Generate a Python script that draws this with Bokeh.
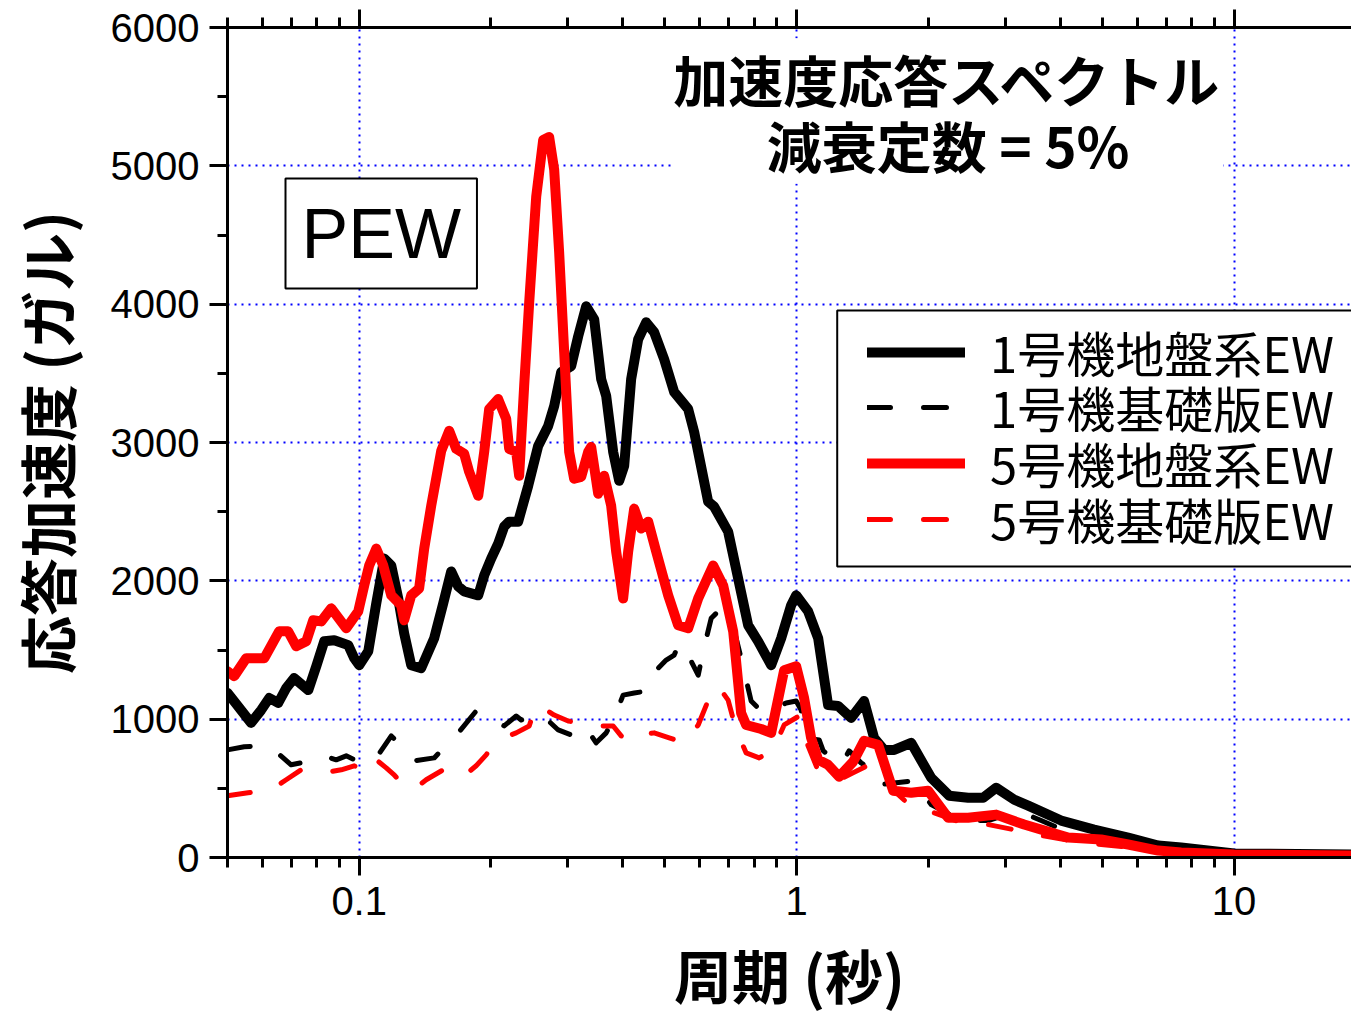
from bokeh.plotting import figure
from bokeh.models import (Range1d, LogAxis, FixedTicker, SingleIntervalTicker, BoxAnnotation,
                          CustomJSTickFormatter, Legend, LegendItem, Label, ColumnDataSource)
from bokeh.embed import file_html
from bokeh.resources import INLINE

# ---------------- data (period [s], response acceleration [gal]) ----------------
period_u1_ground = [0.050, 0.0537, 0.0566, 0.0597, 0.0623, 0.0653, 0.0681, 0.0710, 0.0765, 0.0798,
                    0.0832, 0.0877, 0.0944, 0.0974, 0.100, 0.1049, 0.1094, 0.1141, 0.1184, 0.1228,
                    0.1267, 0.1315, 0.1386, 0.1484, 0.1556, 0.1623, 0.1684, 0.1738, 0.1871, 0.1931,
                    0.2003, 0.2078, 0.2145, 0.2202, 0.2309, 0.2434, 0.2565, 0.2704, 0.2791, 0.2896,
                    0.3052, 0.3167, 0.3303, 0.3445, 0.3574, 0.3670, 0.3807, 0.3929, 0.4034, 0.4185,
                    0.4342, 0.4529, 0.4724, 0.4979, 0.5248, 0.5649, 0.5831, 0.6277, 0.6478, 0.6972,
                    0.7350, 0.7747, 0.8166, 0.8744, 0.9218, 0.9714, 0.9975, 1.062, 1.120, 1.180,
                    1.244, 1.332, 1.426, 1.503, 1.585, 1.671, 1.827, 2.030, 2.232, 2.466,
                    2.669, 2.858, 3.142, 3.382, 4.023, 4.786, 5.724, 6.705, 7.567, 10.0, 20.0]
accel_u1_ground = [1190, 1066, 973, 1066, 1153, 1117, 1225, 1297, 1210, 1383,
                   1563, 1571, 1535, 1441, 1390, 1491, 1837, 2161, 2111, 1873,
                   1621, 1390, 1369, 1585, 1837, 2068, 1960, 1924, 1895, 2039,
                   2161, 2269, 2392, 2428, 2428, 2687, 2975, 3120, 3264, 3509,
                   3552, 3768, 3984, 3890, 3458, 3336, 2932, 2723, 2831, 3458,
                   3746, 3869, 3797, 3602, 3365, 3242, 3076, 2572, 2536, 2356,
                   2017, 1679, 1563, 1390, 1585, 1823, 1895, 1780, 1585, 1102,
                   1095, 1009, 1131, 865, 778, 778, 829, 576, 447, 432,
                   432, 504, 418, 375, 267, 202, 144, 86, 72, 29, 20]

period_u1_base = [0.050, 0.0546, 0.0597, 0.0646, 0.0699, 0.0757, 0.0832, 0.0886, 0.0934, 0.1011,
                  0.1082, 0.1184, 0.1247, 0.1336, 0.1484, 0.1684, 0.1851, 0.2003, 0.2145, 0.2285,
                  0.2346, 0.2606, 0.2851, 0.3052, 0.3268, 0.3481, 0.3670, 0.3827, 0.4012, 0.4252,
                  0.4529, 0.4774, 0.5032, 0.5248, 0.5388, 0.5649, 0.5956, 0.6114, 0.6377, 0.6652,
                  0.7084, 0.7466, 0.7870, 0.8383, 0.8884, 0.9463, 0.9975, 1.024, 1.040, 1.126,
                  1.150, 1.264, 1.318, 1.404, 1.496, 1.544, 1.856, 2.030, 2.377, 2.740,
                  3.209, 3.622, 4.309, 5.235, 6.811, 10.0, 20.0]
accel_u1_base = [778, 800, 807, 764, 670, 692, 735, 706, 735, 684,
                 699, 879, 807, 699, 720, 901, 1059, 1009, 951, 1023,
                 994, 1037, 922, 886, 958, 829, 901, 1009, 1174, 1189,
                 1203, 1354, 1427, 1463, 1549, 1463, 1318, 1491, 1729, 1787,
                 1729, 1441, 1131, 1045, 1081, 1117, 1131, 1066, 865, 850,
                 771, 670, 771, 684, 627, 526, 555, 382, 267, 267,
                 339, 267, 166, 122, 72, 29, 14]

period_u5_ground = [0.050, 0.0518, 0.0552, 0.0607, 0.0656, 0.0688, 0.0718, 0.0757, 0.0785, 0.0819,
                    0.0863, 0.0934, 0.0995, 0.1027, 0.1054, 0.1094, 0.1135, 0.1184, 0.1247, 0.1267,
                    0.1315, 0.1371, 0.1408, 0.1461, 0.1540, 0.1606, 0.1666, 0.1738, 0.1784, 0.1871,
                    0.1931, 0.1982, 0.2078, 0.2168, 0.2202, 0.2285, 0.2321, 0.2383, 0.2447, 0.2539,
                    0.2634, 0.2718, 0.2791, 0.2865, 0.2942, 0.3020, 0.3100, 0.3217, 0.3338, 0.3391,
                    0.3519, 0.3631, 0.3767, 0.3867, 0.4012, 0.4120, 0.4252, 0.4412, 0.4577, 0.4774,
                    0.5086, 0.5359, 0.5649, 0.5956, 0.6444, 0.6792, 0.7160, 0.7466, 0.7667, 0.8297,
                    0.8744, 0.9363, 0.9975, 1.040, 1.079, 1.120, 1.180, 1.250, 1.346, 1.426,
                    1.536, 1.662, 1.827, 1.998, 2.220, 2.466, 2.858, 3.311, 4.175, 4.966,
                    5.724, 6.705, 7.567, 10.0, 20.0]
accel_u5_ground = [1347, 1311, 1441, 1441, 1635, 1635, 1527, 1563, 1715, 1707,
                   1801, 1657, 1780, 1967, 2111, 2233, 2111, 1895, 1823, 1715,
                   1895, 1945, 2233, 2543, 2939, 3084, 2954, 2918, 2788, 2615,
                   2932, 3242, 3314, 3170, 2954, 2932, 2759, 3408, 4013, 4777,
                   5187, 5209, 4971, 4373, 3653, 2932, 2738, 2752, 2932, 2968,
                   2630, 2759, 2543, 2212, 1873, 2212, 2522, 2378, 2428, 2212,
                   1895, 1679, 1657, 1873, 2111, 1967, 1635, 1045, 958, 929,
                   901, 1354, 1383, 1153, 865, 706, 670, 584, 692, 843,
                   814, 483, 468, 483, 288, 288, 310, 238, 144, 130,
                   94, 50, 36, 22, 14]

period_u5_base = [0.050, 0.0557, 0.0629, 0.0681, 0.0737, 0.0832, 0.0910, 0.0974, 0.1038, 0.1094,
                  0.1153, 0.1202, 0.1261, 0.1329, 0.1423, 0.1556, 0.1640, 0.1738, 0.1851, 0.1951,
                  0.2025, 0.2134, 0.2285, 0.2447, 0.2539, 0.2676, 0.2791, 0.3004, 0.3167, 0.3391,
                  0.3612, 0.3807, 0.3971, 0.4230, 0.4412, 0.4724, 0.5113, 0.5532, 0.5956, 0.6377,
                  0.6617, 0.6972, 0.7273, 0.7667, 0.8209, 0.8837, 0.9363, 1.013, 1.051, 1.120,
                  1.250, 1.346, 1.464, 1.560, 1.688, 1.808, 2.030, 2.377, 2.740, 3.209,
                  3.622, 4.470, 5.816, 6.811, 10.0, 20.0]
accel_u5_base = [447, 468, 490, 562, 634, 612, 634, 663, 612, 706,
                 648, 598, 519, 490, 562, 634, 634, 591, 663, 742,
                 814, 865, 901, 951, 1102, 1066, 1030, 987, 973, 958,
                 951, 951, 879, 843, 886, 901, 865, 829, 958, 1189,
                 1239, 1138, 922, 756, 720, 778, 958, 1023, 843, 627,
                 562, 612, 670, 627, 468, 382, 331, 252, 238, 195,
                 159, 108, 72, 50, 22, 14]

series_labels = ["1号機地盤系EW", "1号機基礎版EW", "5号機地盤系EW", "5号機基礎版EW"]
x_major_ticks = [0.1, 1, 10]
x_minor_ticks = [0.05, 0.06, 0.07, 0.08, 0.09, 0.2, 0.3, 0.4, 0.5, 0.6, 0.7, 0.8, 0.9,
                 2, 3, 4, 5, 6, 7, 8, 9, 20]
title_text = "加速度応答スペクトル\n減衰定数 = 5%"
panel_tag = "PEW"

JP = "Noto Sans CJK JP"
LAT = "Liberation Sans"

p = figure(width=1351, height=1018, x_axis_type="log",
           x_range=Range1d(0.05, 18.55), y_range=Range1d(0, 6000),
           output_backend="svg", toolbar_location=None,
           min_border_left=227, min_border_right=0, min_border_top=27, min_border_bottom=158)
p.outline_line_color = None
p.background_fill_color = "white"
p.border_fill_color = "white"

xticker = FixedTicker(ticks=x_major_ticks, minor_ticks=x_minor_ticks)
yticker = SingleIntervalTicker(interval=1000, num_minor_ticks=2)

bottom_axis = p.below[0]
left_axis = p.left[0]
top_axis = LogAxis(formatter=CustomJSTickFormatter(code="return '';"))
p.add_layout(top_axis, "above")

def style_axis(ax):
    ax.axis_line_width = 3
    ax.axis_line_color = "black"
    ax.major_tick_line_width = 3
    ax.minor_tick_line_width = 3
    ax.major_tick_line_color = "black"
    ax.minor_tick_line_color = "black"
    ax.major_tick_out = 18
    ax.major_tick_in = 0
    ax.minor_tick_out = 10
    ax.minor_tick_in = 0
    ax.major_label_text_font = LAT
    ax.major_label_text_font_size = "40px"
    ax.major_label_text_color = "black"
    ax.axis_label_text_font = JP
    ax.axis_label_text_font_style = "bold"
    ax.axis_label_text_font_size = "58px"
    ax.axis_label_text_color = "black"

for ax in [bottom_axis, top_axis]:
    ax.ticker = xticker
    style_axis(ax)
bottom_axis.formatter = CustomJSTickFormatter(code="return tick.toString();")
top_axis.major_label_standoff = 0

bottom_axis.major_label_standoff = 11
bottom_axis.axis_label = "周期 (秒)"
bottom_axis.axis_label_standoff = 14

left_axis.ticker = yticker
style_axis(left_axis)
left_axis.major_label_standoff = 10
left_axis.axis_label = "応答加速度 (ガル)"
left_axis.axis_label_standoff = 20

p.xgrid.ticker = xticker
p.ygrid.ticker = yticker
for g in [p.xgrid[0], p.ygrid[0]]:
    g.grid_line_color = "#0000FF"
    g.grid_line_width = 2
    g.grid_line_dash = "2 5"

src1 = ColumnDataSource(dict(t=period_u1_ground, a=accel_u1_ground))
src2 = ColumnDataSource(dict(t=period_u1_base, a=accel_u1_base))
src3 = ColumnDataSource(dict(t=period_u5_ground, a=accel_u5_ground))
src4 = ColumnDataSource(dict(t=period_u5_base, a=accel_u5_base))

r1 = p.line("t", "a", source=src1, line_color="black", line_width=10,
            line_join="round", line_cap="round")
r2 = p.line("t", "a", source=src2, line_color="black", line_width=5,
            line_dash="23 33", line_join="round", line_cap="round")
r3 = p.line("t", "a", source=src3, line_color="#FF0000", line_width=10,
            line_join="round", line_cap="round")
r4 = p.line("t", "a", source=src4, line_color="#FF0000", line_width=5,
            line_dash="23 33", line_join="round", line_cap="round")

# legend frame (white box with black border, running off the right edge)
p.add_layout(BoxAnnotation(left=1.238, right=40, top=3955, bottom=2104,
                           fill_color="white", fill_alpha=1.0,
                           line_color="black", line_width=2, line_alpha=1.0))

# one legend row per series so the rows can sit as tightly as in the original
row_bottoms = [470, 415, 359, 303]
for lab, r, yb in zip(series_labels, [r1, r2, r3, r4], row_bottoms):
    p.add_layout(Legend(items=[LegendItem(label=lab, renderers=[r])],
                        location=(640, yb), orientation="vertical",
                        label_text_font=JP, label_text_font_size="49px",
                        label_text_color="black",
                        glyph_width=98, glyph_height=40, label_standoff=25,
                        spacing=0, padding=0, margin=0,
                        border_line_color=None, background_fill_alpha=0.0))

p.add_layout(Label(x=2.22, y=5396, text=title_text, text_align="center", text_baseline="middle",
                   text_font=JP, text_font_style="bold", text_font_size="55px",
                   text_line_height=0.82,
                   text_color="black", background_fill_color="white"))

p.add_layout(Label(x=0.1123, y=4510, text=panel_tag, text_align="center", text_baseline="middle",
                   text_font=LAT, text_font_size="70px", text_color="black",
                   background_fill_color="white", border_line_color="black",
                   border_line_width=2, padding=16))

open("out.html", "w").write(file_html(p, INLINE))
